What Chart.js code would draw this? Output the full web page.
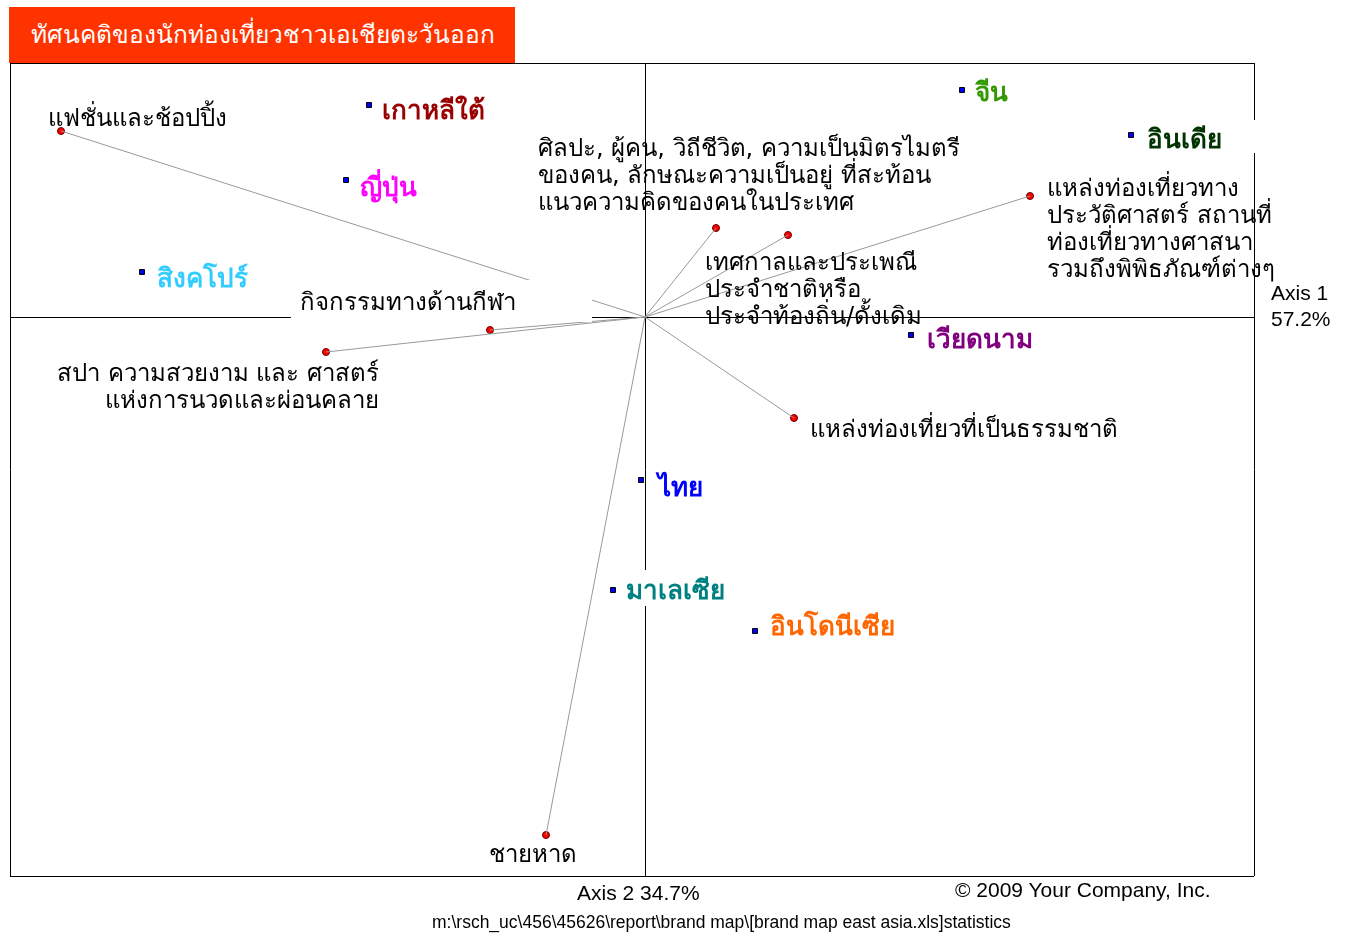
<!DOCTYPE html>
<html>
<head>
<meta charset="utf-8">
<script src="https://cdn.jsdelivr.net/npm/chart.js@4.4.0/dist/chart.umd.min.js"></script>
<style>
  body { margin: 0; background: #fff; overflow: hidden; }
  #wrap { position: relative; width: 1352px; height: 933px; }
  #title { position: absolute; left: 9px; top: 7px; width: 506px; height: 56px; background: #ff3300; white-space: nowrap;
           color: #fff; font: 24.5px Tahoma, sans-serif; line-height: 56px; padding-left: 22px; box-sizing: border-box; }
  .note { position: absolute; font-family: "Liberation Sans", Arial, sans-serif; color: #000; white-space: nowrap; line-height: 1; }
</style>
</head>
<body>
<div id="wrap">
  <canvas id="myChart"></canvas>
  <div id="title">ทัศนคติของนักท่องเที่ยวชาวเอเชียตะวันออก</div>
  <div class="note" style="left:1271px; top:280px; font-size:21px; line-height:26px;">Axis 1<br>57.2%</div>
  <div class="note" style="left:577px; top:882px; font-size:21px;">Axis 2 34.7%</div>
  <div class="note" style="left:955px; top:879px; font-size:21px;">© 2009 Your Company, Inc.</div>
  <div class="note" style="left:432px; top:914px; font-size:17.5px;">m:\rsch_uc\456\45626\report\brand map\[brand map east asia.xls]statistics</div>
</div>
<script>
// ประเทศ (จุดสี่เหลี่ยม)
const countryNames = ['เกาหลีใต้', 'ญี่ปุ่น', 'สิงคโปร์', 'จีน', 'อินเดีย', 'เวียดนาม', 'ไทย', 'มาเลเซีย', 'อินโดนีเซีย'];
const countryX = [-0.552, -0.598, -1.006, 0.634, 0.972, 0.532, -0.008, -0.064, 0.220];
const countryY = [0.424, 0.274, 0.090, 0.454, 0.364, -0.036, -0.326, -0.546, -0.628];

// คุณลักษณะ (จุดวงกลม + เส้นจากจุดกำเนิด)
const attrNames = [
  'แฟชั่นและช้อปปิ้ง',
  'ศิลปะ, ผู้คน, วิถีชีวิต, ความเป็นมิตรไมตรี\nของคน, ลักษณะความเป็นอยู่ ที่สะท้อน\nแนวความคิดของคนในประเทศ',
  'เทศกาลและประเพณี\nประจำชาติหรือ\nประจำท้องถิ่น/ดั้งเดิม',
  'แหล่งท่องเที่ยวทาง\nประวัติศาสตร์ สถานที่\nท่องเที่ยวทางศาสนา\nรวมถึงพิพิธภัณฑ์ต่างๆ',
  'กิจกรรมทางด้านกีฬา',
  'สปา ความสวยงาม และ ศาสตร์\nแห่งการนวดและผ่อนคลาย',
  'แหล่งท่องเที่ยวที่เป็นธรรมชาติ',
  'ชายหาด'
];
const attrX = [-1.168, 0.142, 0.286, 0.770, -0.310, -0.638, 0.298, -0.198];
const attrY = [0.372, 0.178, 0.164, 0.242, -0.026, -0.070, -0.202, -1.036];

// ขอบเขตแกน
const xTicks = [-1.27, 0, 1.218];
const yTicks = [-1.118, 0, 0.508];

// สีและตำแหน่งป้ายชื่อ (แยกจากข้อมูล) : [dx, dy, align, กล่องพื้นขาว [dx, dy, w, h]]
const countryColors = ['#990000', '#ff00ff', '#33ccff', '#339900', '#003300', '#800080', '#0000ff', '#008080', '#ff6600'];
const countryLabelPos = [
  [13, 7], [14, 9], [15, 8], [13, 4], [16, 6, 'left', [-10, -21, 121, 33]],
  [16, 6], [17, 9], [13, 2, 'left', [-8, -22, 120, 36]], [15, -3]
];
const attrLabelPos = [
  [-13, -11], [-178, -78], [-83, 29], [17, -6], [-190, -26, 'left', [-9, -24, 301, 42]],
  [53, 23, 'right'], [16, 13], [-57, 21]
];

const labelFont = 'Tahoma, "DejaVu Sans", sans-serif';

// ป้ายชื่อวาดเองบน canvas
const labelPlugin = {
  id: 'labels',
  afterDatasetsDraw(chart) {
    const ctx = chart.ctx;
    const xs = chart.scales.x, ys = chart.scales.y;
    function draw(text, px, py, pos, font, color) {
      const lines = text.split('\n');
      const lh = 27;
      const x = px + pos[0], y = py + pos[1];
      ctx.save();
      if (pos[3]) {
        ctx.fillStyle = '#fff';
        ctx.fillRect(x + pos[3][0], y + pos[3][1], pos[3][2], pos[3][3]);
      }
      ctx.font = font;
      ctx.textBaseline = 'middle';
      ctx.textAlign = pos[2] || 'left';
      ctx.fillStyle = color;
      lines.forEach((l, i) => ctx.fillText(l, x, y + i * lh));
      ctx.restore();
    }
    attrNames.forEach((n, i) => {
      draw(n, xs.getPixelForValue(attrX[i]), ys.getPixelForValue(attrY[i]), attrLabelPos[i], '24px ' + labelFont, '#000');
    });
    countryNames.forEach((n, i) => {
      draw(n, xs.getPixelForValue(countryX[i]), ys.getPixelForValue(countryY[i]), countryLabelPos[i], 'bold 26px ' + labelFont, countryColors[i]);
    });
  }
};

const vectorSets = attrNames.map((n, i) => ({
  type: 'line',
  data: [{ x: 0, y: 0 }, { x: attrX[i], y: attrY[i] }],
  borderColor: '#999999',
  borderWidth: 1,
  pointRadius: 0,
  fill: false
}));

var ctx = document.getElementById('myChart').getContext('2d');
var myChart = new Chart(ctx, {
  type: 'scatter',
  data: {
    datasets: [
      ...vectorSets,
      {
        label: 'คุณลักษณะ',
        data: attrX.map((v, i) => ({ x: v, y: attrY[i] })),
        pointStyle: 'circle',
        pointRadius: 3.5,
        backgroundColor: '#ff0000',
        borderColor: '#660000',
        borderWidth: 1
      },
      {
        label: 'ประเทศ',
        data: countryX.map((v, i) => ({ x: v, y: countryY[i] })),
        pointStyle: 'rect',
        pointRadius: 3.5,
        backgroundColor: '#0000ff',
        borderColor: '#000000',
        borderWidth: 1
      }
    ]
  },
  options: {
    responsive: true,
    maintainAspectRatio: false,
    animation: false,
    layout: { padding: { left: 10, top: 63, right: 98, bottom: 57 } },
    plugins: { legend: { display: false }, tooltip: { enabled: false } },
    scales: {
      x: {
        type: 'linear', min: xTicks[0], max: xTicks[2],
        afterBuildTicks: s => { s.ticks = xTicks.map(v => ({ value: v })); },
        ticks: { display: false },
        grid: { color: '#000', lineWidth: 1, drawTicks: false },
        border: { display: false }
      },
      y: {
        type: 'linear', min: yTicks[0], max: yTicks[2],
        afterBuildTicks: s => { s.ticks = yTicks.map(v => ({ value: v })); },
        ticks: { display: false },
        grid: { color: '#000', lineWidth: 1, drawTicks: false },
        border: { display: false }
      }
    }
  },
  plugins: [labelPlugin]
});
</script>
</body>
</html>
